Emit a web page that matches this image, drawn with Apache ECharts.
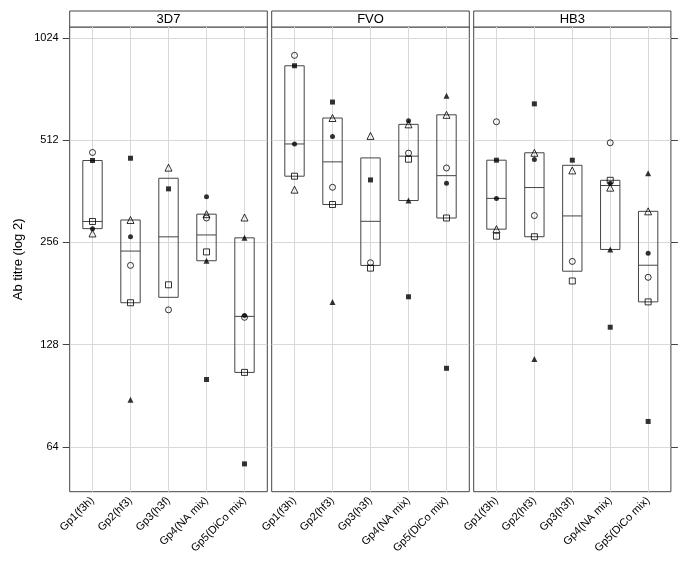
<!DOCTYPE html>
<html>
<head>
<meta charset="utf-8">
<script src="https://cdn.jsdelivr.net/npm/echarts@6/dist/echarts.min.js"></script>
<style>html,body{margin:0;padding:0;background:#fff}#c{width:685px;height:567px}</style>
</head>
<body>
<div id="c"></div>
<script>
const panels = ['3D7', 'FVO', 'HB3'];
const groups = ['Gp1(f3h)', 'Gp2(hf3)', 'Gp3(h3f)', 'Gp4(NA mix)', 'Gp5(DiCo mix)'];
const yTicks = [64, 128, 256, 512, 1024];

// Ab titres per animal (symbol), rows = panels (3D7, FVO, HB3), columns = groups
const openCircle = [
  [471, 219, 162, 302, 154],
  [910, 372, 223, 469, 424],
  [580, 307, 225, 503, 202]
];
const filledCircle = [
  [281, 266, null, 349, 156],
  [499, 525, null, 584, 382],
  [345, 449, null, 382, 238]
];
const openSquare = [
  [295, 170, 192, 240, 106],
  [401, 331, 215, 450, 302],
  [267, 266, 197, 390, 171]
];
const filledSquare = [
  [446, 453, 368, 101, 57],
  [848, 663, 391, 177, 109],
  [447, 655, 447, 144, 76]
];
const openTriangle = [
  [272, 298, 425, 310, 303],
  [366, 595, 527, 570, 608],
  [280, 470, 417, 371, 316]
];
const filledTriangle = [
  [null, 88, null, 226, 264],
  [null, 171, null, 340, 692],
  [null, 116, null, 244, 409]
];

const shapes = [
  { data: openCircle, symbol: 'circle', size: 6, filled: false },
  { data: filledCircle, symbol: 'circle', size: 5, filled: true },
  { data: openSquare, symbol: 'rect', size: 6, filled: false },
  { data: filledSquare, symbol: 'rect', size: 5, filled: true },
  { data: openTriangle, symbol: 'triangle', size: 7, filled: false },
  { data: filledTriangle, symbol: 'triangle', size: 6, filled: true }
];

// Tukey five-number summary on log2 scale
function fivenumLog(vals) {
  const x = vals.filter(v => v != null).map(v => Math.log2(v)).sort((a, b) => a - b);
  const n = x.length;
  const n4 = Math.floor((n + 3) / 2) / 2;
  const d = [1, n4, (n + 1) / 2, n + 1 - n4, n];
  return d.map(di => Math.pow(2, 0.5 * (x[Math.floor(di) - 1] + x[Math.ceil(di) - 1])));
}

const FONT = "'Liberation Sans', Arial, Helvetica, sans-serif";
const gridLeft = [69.7, 271.7, 473.7];
const gridW = [197.6, 197.6, 197.2];
const gridTop = 27, gridBottomY = 491.7;
const yMin = 47.2, yMax = 1103;

const grids = panels.map((p, i) => ({
  left: gridLeft[i], top: gridTop, width: gridW[i], height: gridBottomY - gridTop,
  show: true, borderColor: '#444', borderWidth: 1, backgroundColor: 'transparent'
}));

const xAxes = panels.map((p, i) => ({
  type: 'value', gridIndex: i, min: 0.4, max: 5.6,
  axisLine: { show: false },
  axisTick: { show: false, customValues: [1, 2, 3, 4, 5] },
  splitLine: { show: true, lineStyle: { color: '#d9d9d9', width: 1 } },
  axisLabel: {
    customValues: [1, 2, 3, 4, 5],
    rotate: 45, margin: 7, fontSize: 11, color: '#000', fontFamily: FONT,
    formatter: v => groups[Math.round(v) - 1] || ''
  }
}));

function yAxisBase(i) {
  return {
    type: 'log', logBase: 2, gridIndex: i, min: yMin, max: yMax,
    axisLine: { show: false },
    splitLine: { show: true, lineStyle: { color: '#d9d9d9', width: 1 } }
  };
}
const yAxes = panels.map((p, i) => {
  const a = yAxisBase(i);
  if (i === 0) {
    a.axisTick = { show: true, inside: false, length: 7, lineStyle: { color: '#444' }, customValues: yTicks };
    a.axisLabel = { show: true, customValues: yTicks, margin: 11, fontSize: 11, color: '#000', fontFamily: FONT,
      formatter: v => String(Math.round(v)) };
    a.name = 'Ab titre (log 2)';
    a.nameLocation = 'middle';
    a.nameGap = 45;
    a.nameRotate = 90;
    a.nameTextStyle = { fontSize: 13, color: '#000', fontFamily: FONT };
  } else {
    a.axisTick = { show: false, customValues: yTicks };
    a.axisLabel = { show: false, customValues: yTicks };
  }
  return a;
});
yAxes.push({
  type: 'log', logBase: 2, gridIndex: 2, min: yMin, max: yMax, position: 'right',
  axisLine: { show: false }, splitLine: { show: false },
  axisTick: { show: true, length: 7, lineStyle: { color: '#444' }, customValues: yTicks },
  axisLabel: { show: false, customValues: yTicks }
});

const series = [];
panels.forEach((p, pi) => {
  const boxData = groups.map((g, gi) => {
    const vals = shapes.map(s => s.data[pi][gi]);
    const f = fivenumLog(vals);
    return [gi + 1, f[1], f[2], f[3]];
  });
  series.push({
    type: 'custom', xAxisIndex: pi, yAxisIndex: pi, z: 2,
    data: boxData,
    renderItem: function (params, api) {
      const x = api.value(0);
      const lo = api.coord([x - 0.255, api.value(1)]);
      const hi = api.coord([x + 0.255, api.value(3)]);
      const md = api.coord([x, api.value(2)]);
      return {
        type: 'group',
        children: [
          { type: 'rect', shape: { x: lo[0], y: hi[1], width: hi[0] - lo[0], height: lo[1] - hi[1] },
            style: { fill: 'none', stroke: '#444', lineWidth: 1 } },
          { type: 'line', shape: { x1: lo[0], y1: md[1], x2: hi[0], y2: md[1] },
            style: { stroke: '#444', lineWidth: 1 } }
        ]
      };
    }
  });
  shapes.forEach(s => {
    const pts = [];
    s.data[pi].forEach((v, gi) => { if (v != null) pts.push([gi + 1, v]); });
    series.push({
      type: 'scatter', xAxisIndex: pi, yAxisIndex: pi, z: 3,
      symbol: s.symbol, symbolSize: s.size, data: pts,
      itemStyle: s.filled ? { color: '#000' } : { color: 'rgba(0,0,0,0)', borderColor: '#000', borderWidth: 1 },
      emphasis: { disabled: true }
    });
  });
});

const graphic = panels.map((p, i) => ({
  type: 'group',
  children: [
    { type: 'rect', shape: { x: gridLeft[i], y: 11, width: gridW[i], height: gridTop - 11 },
      style: { fill: '#fff', stroke: '#444', lineWidth: 1 } },
    { type: 'text', x: gridLeft[i] + gridW[i] / 2, y: 19,
      style: { text: p, fill: '#000', font: '13px ' + FONT, textAlign: 'center', textVerticalAlign: 'middle' } }
  ]
}));

const chart = echarts.init(document.getElementById('c'), null, { renderer: 'canvas' });
chart.setOption({
  animation: false,
  backgroundColor: '#fff',
  grid: grids,
  xAxis: xAxes,
  yAxis: yAxes,
  series: series,
  graphic: graphic
});
</script>
</body>
</html>
